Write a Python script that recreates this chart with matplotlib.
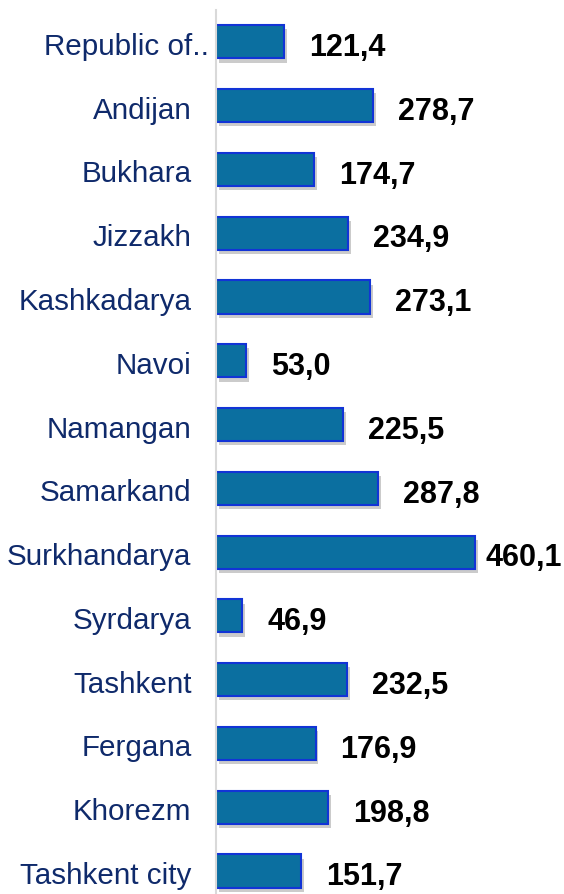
import numpy as np
import matplotlib.pyplot as plt
import matplotlib.patheffects as pe
from matplotlib.transforms import ScaledTranslation

regions = ["Republic of..", "Andijan", "Bukhara", "Jizzakh", "Kashkadarya", "Navoi",
           "Namangan", "Samarkand", "Surkhandarya", "Syrdarya", "Tashkent",
           "Fergana", "Khorezm", "Tashkent city"]
values = [121.4, 278.7, 174.7, 234.9, 273.1, 53.0, 225.5, 287.8, 460.1, 46.9,
          232.5, 176.9, 198.8, 151.7]

plt.rcParams['font.family'] = ['Liberation Sans', 'DejaVu Sans']

fig = plt.figure(figsize=(5.64, 8.94), dpi=100)
ax = fig.add_axes([216 / 564, 0, 1 - 216 / 564, 884 / 894])

y = np.arange(len(regions))
bars = ax.barh(y, values, height=0.52, color='#0b6fa0', edgecolor='#1234d6', linewidth=1.5)
for b in bars:
    b.set_path_effects([pe.SimplePatchShadow(offset=(2, -3), shadow_rgbFace='#555555', alpha=0.3),
                        pe.Normal()])

ax.set_xlim(0, 618)
ax.set_ylim(13.36, -0.5)
ax.set_yticks(y)
ax.set_yticklabels(regions, fontsize=21.3, color='#0f2a6b')
ax.tick_params(axis='y', length=0, pad=17.6)
ax.set_xticks([])
for s in ['top', 'right', 'bottom']:
    ax.spines[s].set_visible(False)
ax.spines['left'].set_color('#d9d9d9')
ax.spines['left'].set_linewidth(1.5)

for i, lab in enumerate(ax.get_yticklabels()):
    dx = 17 / 100 if i == 0 else 0
    lab.set_transform(lab.get_transform() + ScaledTranslation(dx, -2 / 100, fig.dpi_scale_trans))

# value labels; pull back the ones that would run off the right edge
renderer = fig.canvas.get_renderer()
fig_w = fig.bbox.width
for yi, v in zip(y, values):
    t = ax.annotate(f"{v:.1f}".replace('.', ','), (v, yi), xytext=(18, -4.5), textcoords='offset points',
                    ha='left', va='center', fontsize=22, fontweight='bold', color='black')
    ext = t.get_window_extent(renderer)
    if ext.x1 > fig_w - 2:
        over = (ext.x1 - (fig_w - 2)) * 72 / fig.dpi
        t.set_position((18 - over, -4.5))

fig.savefig('out.png', dpi=100)
